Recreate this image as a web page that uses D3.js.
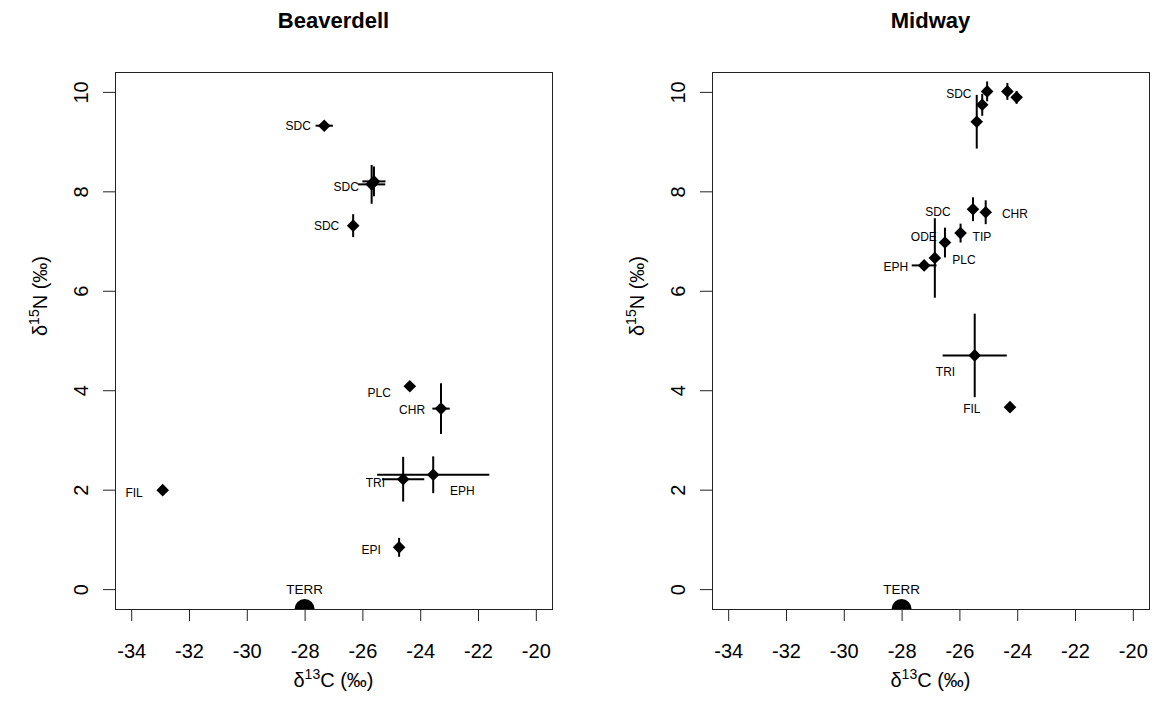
<!DOCTYPE html>
<html>
<head>
<meta charset="utf-8">
<script src="https://cdnjs.cloudflare.com/ajax/libs/d3/7.8.5/d3.min.js"></script>
<style>
  body { margin: 0; background: #fff; }
  text { font-family: "Liberation Sans", Arial, sans-serif; fill: #000; }
</style>
</head>
<body>
<svg id="chart" width="1154" height="715"></svg>
<script>
// Axis ticks (both panels share them)
const xTicks = [-34, -32, -30, -28, -26, -24, -22, -20];
const yTicks = [0, 2, 4, 6, 8, 10];

// Beaverdell: taxon means, SDs and where their labels sit (data units)
const bvLabels = ['SDC', 'SDC', '', 'SDC', 'PLC', 'CHR', 'TRI', 'EPH', 'FIL', 'EPI'];
const bvC = [-27.32, -25.68, -25.6, -26.32, -24.36, -23.28, -24.59, -23.55, -32.91, -24.73];
const bvN = [9.32, 8.14, 8.2, 7.31, 4.08, 3.63, 2.21, 2.30, 1.99, 0.84];
const bvCsd = [0.3, 0.47, 0.4, 0.0, 0.0, 0.3, 0.73, 1.94, 0.0, 0.0];
const bvNsd = [0.0, 0.39, 0.3, 0.23, 0.0, 0.51, 0.45, 0.37, 0.0, 0.19];
const bvLabelC = [-28.22, -26.56, 0, -27.24, -25.42, -24.28, -25.55, -22.54, -33.90, -25.70];
const bvLabelN = [9.32, 8.10, 0, 7.30, 3.96, 3.61, 2.15, 1.97, 1.93, 0.80];

// Midway
const mwLabels = ['SDC', '', '', '', '', 'SDC', 'CHR', 'TIP', 'ODE', 'PLC', 'EPH', 'TRI', 'FIL'];
const mwC = [-25.04, -25.21, -25.40, -24.34, -24.02, -25.53, -25.09, -25.96, -26.50, -26.85, -27.22, -25.47, -24.25];
const mwN = [10.01, 9.74, 9.40, 10.01, 9.89, 7.64, 7.58, 7.16, 6.97, 6.66, 6.51, 4.70, 3.66];
const mwCsd = [0, 0, 0, 0, 0, 0, 0, 0, 0, 0.1, 0.43, 1.11, 0];
const mwNsd = [0.2, 0.22, 0.54, 0.17, 0.13, 0.24, 0.24, 0.19, 0.3, 0.8, 0, 0.84, 0];
const mwLabelC = [-26.02, 0, 0, 0, 0, -26.74, -24.08, -25.22, -27.23, -25.84, -28.20, -26.48, -25.57];
const mwLabelN = [9.97, 0, 0, 0, 0, 7.60, 7.55, 7.09, 7.08, 6.63, 6.48, 4.38, 3.63];

// Terrestrial baseline
const terrC = -28;
const terrN = -0.4;

const panels = [
  { title: 'Beaverdell', left: 115, labels: bvLabels, c: bvC, n: bvN, csd: bvCsd, nsd: bvNsd, lc: bvLabelC, ln: bvLabelN },
  { title: 'Midway', left: 712, labels: mwLabels, c: mwC, n: mwN, csd: mwCsd, nsd: mwNsd, lc: mwLabelC, ln: mwLabelN }
];

const svg = d3.select('#chart');
const plotTop = 72, plotBottom = 609, plotW = 437;

function deltaLabel (sel, iso, el) {
  sel.append('tspan').text('δ');
  sel.append('tspan').attr('font-size', 14).attr('dy', -8).text(iso);
  sel.append('tspan').attr('dy', 8).text(el + ' (‰)');
}

panels.forEach((p, pi) => {
  const x = d3.scaleLinear().domain([-34.56, -19.44]).range([p.left, p.left + plotW]);
  const y = d3.scaleLinear().domain([-0.4, 10.4]).range([plotBottom, plotTop]);
  const g = svg.append('g');

  // clip for the plotting region
  const clipId = 'clip' + pi;
  svg.append('clipPath').attr('id', clipId)
    .append('rect')
      .attr('x', p.left).attr('y', plotTop)
      .attr('width', plotW).attr('height', plotBottom - plotTop);

  // axes
  const xAxis = g.append('g')
    .attr('transform', `translate(0,${plotBottom})`)
    .call(d3.axisBottom(x).tickValues(xTicks).tickSize(12).tickPadding(23).tickFormat(d => String(d)));
  const yAxis = g.append('g')
    .attr('transform', `translate(${p.left},0)`)
    .call(d3.axisLeft(y).tickValues(yTicks).tickSize(12).tickFormat(d => String(d)));

  [xAxis, yAxis].forEach(a => {
    a.select('.domain').remove();
    a.selectAll('line').attr('stroke', '#222');
    a.selectAll('text').attr('font-size', 20).attr('font-family', '"Liberation Sans", Arial, sans-serif').attr('fill', '#000');
  });
  yAxis.selectAll('.tick text')
    .attr('x', 0).attr('dy', 0)
    .attr('text-anchor', 'middle')
    .attr('transform', 'translate(-27,0) rotate(-90)');

  g.append('rect')
    .attr('x', p.left + 0.5).attr('y', plotTop + 0.5)
    .attr('width', plotW).attr('height', plotBottom - plotTop)
    .attr('fill', 'none').attr('stroke', '#222');

  // titles
  g.append('text')
    .attr('x', p.left + plotW / 2).attr('y', 28)
    .attr('text-anchor', 'middle').attr('font-size', 22).attr('font-weight', 'bold')
    .text(p.title);
  g.append('text')
    .attr('x', p.left + plotW / 2).attr('y', 687)
    .attr('text-anchor', 'middle').attr('font-size', 20)
    .call(deltaLabel, '13', 'C');
  g.append('text')
    .attr('transform', `translate(${p.left - 68},296) rotate(-90)`)
    .attr('text-anchor', 'middle').attr('font-size', 20)
    .call(deltaLabel, '15', 'N');

  const idx = d3.range(p.c.length);
  const marks = g.append('g').attr('clip-path', `url(#${clipId})`);

  // error bars
  marks.selectAll('line.ey')
    .data(idx.filter(i => p.nsd[i] > 0))
    .join('line')
      .attr('class', 'ey')
      .attr('x1', i => x(p.c[i])).attr('x2', i => x(p.c[i]))
      .attr('y1', i => y(p.n[i] - p.nsd[i])).attr('y2', i => y(p.n[i] + p.nsd[i]))
      .attr('stroke', '#000').attr('stroke-width', 2);
  marks.selectAll('line.ex')
    .data(idx.filter(i => p.csd[i] > 0))
    .join('line')
      .attr('class', 'ex')
      .attr('x1', i => x(p.c[i] - p.csd[i])).attr('x2', i => x(p.c[i] + p.csd[i]))
      .attr('y1', i => y(p.n[i])).attr('y2', i => y(p.n[i]))
      .attr('stroke', '#000').attr('stroke-width', 2);

  // filled diamonds
  const d = 6.3;
  marks.selectAll('path.pt')
    .data(idx)
    .join('path')
      .attr('class', 'pt')
      .attr('d', i => {
        const cx = x(p.c[i]), cy = y(p.n[i]);
        return `M${cx},${cy - d}L${cx + d},${cy}L${cx},${cy + d}L${cx - d},${cy}Z`;
      })
      .attr('fill', '#000');

  // terrestrial baseline
  marks.append('circle')
    .attr('cx', x(terrC)).attr('cy', y(terrN)).attr('r', 10)
    .attr('fill', '#000');

  // point labels
  marks.selectAll('text.lab')
    .data(idx.filter(i => p.labels[i]))
    .join('text')
      .attr('class', 'lab')
      .attr('x', i => x(p.lc[i])).attr('y', i => y(p.ln[i]))
      .attr('dy', '0.36em')
      .attr('text-anchor', 'middle').attr('font-size', 12)
      .text(i => p.labels[i]);
  marks.append('text')
    .attr('x', x(terrC)).attr('y', y(0))
    .attr('dy', '0.36em')
    .attr('text-anchor', 'middle').attr('font-size', 13.5)
    .text('TERR');
});
</script>
</body>
</html>
